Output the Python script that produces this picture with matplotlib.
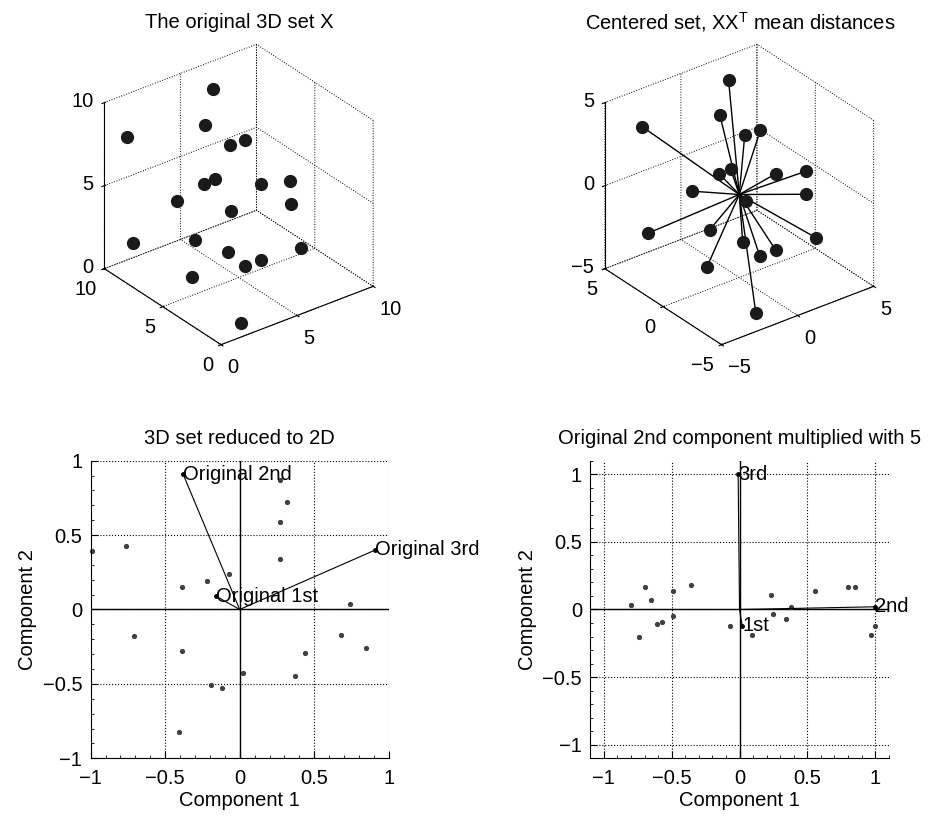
import matplotlib
matplotlib.use('Agg')
import matplotlib.pyplot as plt
import numpy as np
from matplotlib.ticker import AutoMinorLocator

FS = 14.5
plt.rcParams['font.family'] = ['Liberation Sans', 'DejaVu Sans']
plt.rcParams['font.size'] = FS

# original 3D set
px = [6.4, 4.3, 1.1, 4.4, 6.2, 2.7, 3.5, 4.9, 8.4, 1.7,
      6.1, 4.5, 1.1, 2.1, 3.5, 8.3, 4.9, 2.7, 1.9, 1.9]
py = [9.0, 7.0, 9.5, 5.0, 6.0, 4.0, 6.0, 3.0, 5.0, 6.0,
      2.0, 5.0, 9.0, 5.0, 4.0, 4.0, 3.0, 1.5, 5.0, 0.8]
pz = [9.0, 8.5, 7.8, 8.2, 7.4, 7.2, 5.7, 6.6, 4.6, 5.3,
      5.4, 4.2, 1.6, 3.3, 2.5, 1.1, 2.0, 3.1, 1.1, 0.3]

# scores on the first two components
c1 = [-0.99, -0.76, -0.71, -0.39, -0.39, -0.22, -0.07, -0.19, -0.12, -0.41,
      0.02, 0.27, 0.32, 0.27, 0.27, 0.74, 0.68, 0.85, 0.44, 0.37]
c2 = [0.39, 0.43, -0.18, 0.15, -0.28, 0.19, 0.24, -0.51, -0.53, -0.82,
      -0.43, 0.87, 0.72, 0.59, 0.34, 0.04, -0.17, -0.26, -0.29, -0.45]
axis_names = ['Original 1st', 'Original 2nd', 'Original 3rd']
ax_c1 = [-0.16, -0.38, 0.91]
ax_c2 = [0.09, 0.91, 0.40]

# after scaling the 2nd original component by 5
s1 = [-0.80, -0.70, -0.65, -0.74, -0.61, -0.57, -0.49, -0.49, -0.36, -0.07,
      0.09, 0.23, 0.25, 0.38, 0.34, 0.56, 0.80, 0.85, 1.00, 0.97]
s2 = [0.03, 0.17, 0.07, -0.20, -0.11, -0.09, 0.14, -0.05, 0.18, -0.12,
      -0.19, 0.11, -0.03, 0.02, -0.07, 0.14, 0.17, 0.17, -0.12, -0.19]
short_names = ['1st', '2nd', '3rd']
sc_c1 = [0.02, 1.00, -0.01]
sc_c2 = [-0.12, 0.02, 1.00]

fig = plt.figure(figsize=(9.33, 8.16), dpi=100)


def style3d(ax, lim, ticks, labels):
    ax.set_proj_type('ortho')
    ax.view_init(elev=30, azim=-127.5)
    ax.set_box_aspect((1, 1, 1), zoom=0.79)
    ax.set_xlim(*lim)
    ax.set_ylim(*lim)
    ax.set_zlim(*lim)
    for a in (ax.xaxis, ax.yaxis, ax.zaxis):
        a.set_ticks(ticks)
        a.set_ticklabels(labels)
        a.set_pane_color((1, 1, 1, 0))
        a._axinfo['grid'].update(color='k', linestyle=':', linewidth=0.7)
        a.line.set_color('k')
        a.line.set_linewidth(0.8)
    ax.tick_params(labelsize=FS)
    ax.tick_params(axis='x', pad=0.5)
    ax.tick_params(axis='y', pad=-0.5)
    ax.tick_params(axis='z', pad=-2)
    plt.setp(ax.get_xticklabels(), ha='left')
    plt.setp(ax.get_yticklabels(), ha='right')
    plt.setp(ax.get_zticklabels(), ha='right', va='center')


ax1 = fig.add_axes([0.0, 0.5 + 4 / 816, 0.5, 0.5], projection='3d', computed_zorder=False)
style3d(ax1, (0, 10), [0, 5, 10], ['0', '5', '10'])
ax1.plot(px, py, pz, 'o', ms=8.5, color='#1a1a1a')
fig.text(239 / 933, 1 - 22 / 816, 'The original 3D set X', ha='center', va='center')

ax2 = fig.add_axes([0.5 + 34 / 933, 0.5 + 4 / 816, 0.5, 0.5], projection='3d', computed_zorder=False)
style3d(ax2, (-5, 5), [-5, 0, 5], ['\u22125', '0', '5'])
cx = np.array(px) - np.mean(px)
cy = np.array(py) - np.mean(py)
cz = np.array(pz) - np.mean(pz)
for x, y, z in zip(cx, cy, cz):
    ax2.plot([0, x], [0, y], [0, z], color='k', lw=1)
ax2.plot(cx, cy, cz, 'o', ms=8.5, color='#1a1a1a')
fig.text(740 / 933, 1 - 22 / 816, r'Centered set, XX$^\mathregular{T}$ mean distances',
         ha='center', va='center')


def style2d(ax, lim):
    ax.set_xlim(*lim)
    ax.set_ylim(*lim)
    ax.set_xticks([-1, -0.5, 0, 0.5, 1])
    ax.set_yticks([-1, -0.5, 0, 0.5, 1])
    ax.set_xticklabels(['\u22121', '\u22120.5', '0', '0.5', '1'])
    ax.set_yticklabels(['\u22121', '\u22120.5', '0', '0.5', '1'])
    ax.xaxis.set_minor_locator(AutoMinorLocator(5))
    ax.yaxis.set_minor_locator(AutoMinorLocator(5))
    ax.tick_params(which='both', direction='in', top=False, right=False)
    ax.tick_params(which='major', length=5)
    ax.tick_params(which='minor', length=2.5)
    ax.tick_params(axis='x', which='major', pad=8)
    ax.tick_params(axis='y', which='major', pad=6)
    ax.spines['top'].set_visible(False)
    ax.spines['right'].set_visible(False)
    ax.grid(True, color='k', linestyle=':', linewidth=0.8)
    ax.axhline(0, color='k', lw=1)
    ax.axvline(0, color='k', lw=1)
    ax.set_xlabel('Component 1', labelpad=2)
    ax.set_ylabel('Component 2', labelpad=4)


ax3 = fig.add_axes([90.7 / 933, 1 - 758.3 / 816, 298 / 933, 297.6 / 816])
style2d(ax3, (-1, 1))
ax3.plot(c1, c2, '.', ms=5.5, color='#404040', clip_on=False)
for name, a, b in zip(axis_names, ax_c1, ax_c2):
    ax3.plot([0, a], [0, b], color='k', lw=0.8)
    ax3.plot(a, b, '.', ms=5, color='k')
    ax3.text(a, b, name, ha='left', va='center', clip_on=False)
ax3.set_title('3D set reduced to 2D', fontsize=FS, pad=12)

ax4 = fig.add_axes([590.3 / 933, 1 - 758.3 / 816, 298.4 / 933, 297.6 / 816])
style2d(ax4, (-1.1, 1.1))
ax4.plot(s1, s2, '.', ms=5.5, color='#404040')
for name, a, b in zip(short_names, sc_c1, sc_c2):
    ax4.plot([0, a], [0, b], color='k', lw=0.8)
    ax4.plot(a, b, '.', ms=5, color='k')
    ax4.text(a, b, name, ha='left', va='center', clip_on=False)
ax4.set_title('Original 2nd component multiplied with 5', fontsize=FS, pad=12)

fig.savefig('out.png', dpi=100)
